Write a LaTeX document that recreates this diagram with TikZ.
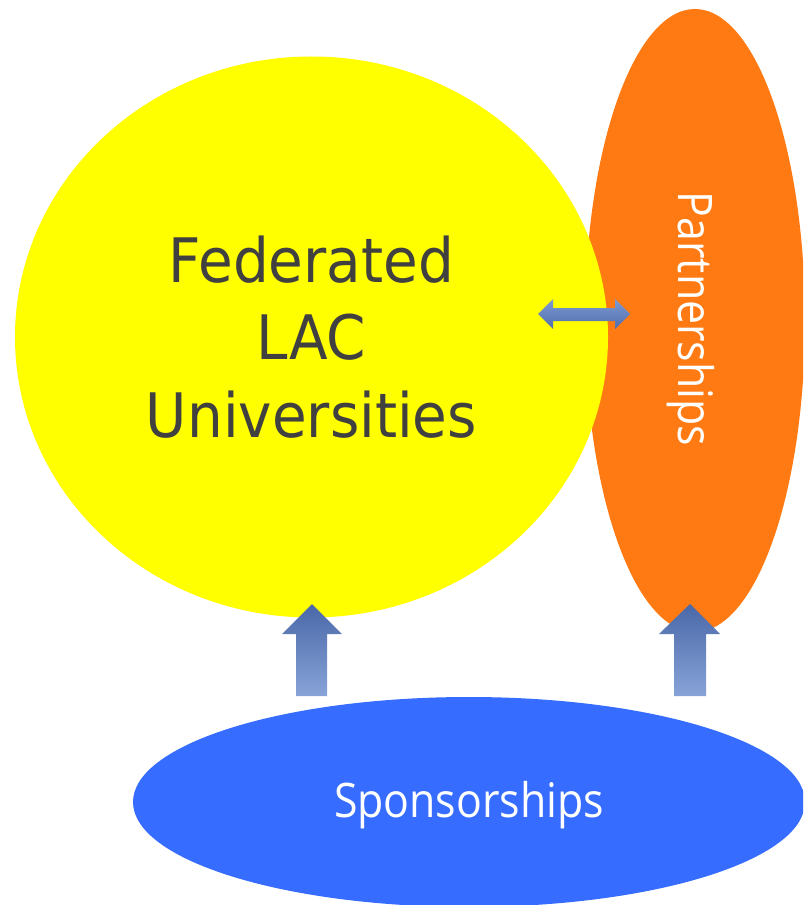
\documentclass[tikz,border=0pt]{standalone}
\usepackage{fontspec}
\newfontfamily\fedfont[FakeStretch=0.92]{DejaVu Sans}
\newfontfamily\labfont[FakeStretch=0.9]{Open Sans}
\usetikzlibrary{shapes.geometric}
\definecolor{fedyellow}{HTML}{FFFF00}
\definecolor{partorange}{HTML}{FF7A12}
\definecolor{sponblue}{HTML}{366CFF}
\definecolor{fedgray}{HTML}{404040}
\definecolor{arrowdark}{HTML}{4A68A8}
\definecolor{arrowlight}{HTML}{87A3D8}
\definecolor{dblight}{HTML}{7E9AD4}
\definecolor{dbdark}{HTML}{506EAC}
\begin{document}
\begin{tikzpicture}[x=0.75pt,y=-0.75pt,
  blob/.style={ellipse, draw=none, inner sep=0pt, outer sep=0pt},
  lab/.style={text=white, font=\labfont\fontsize{35.7}{40}\selectfont, inner sep=0pt},
  uparrow/.style={top color=arrowdark, bottom color=arrowlight, draw=none},
  dblarrow/.style={top color=dblight, bottom color=dbdark, draw=none}]
\useasboundingbox (0,0) rectangle (803,905);
\clip (0,0) rectangle (803,905);
% Partnerships ellipse (behind the circle)
\node[blob, fill=partorange, minimum width=165pt, minimum height=467.25pt] (part) at (695,320.5) {};
% Federated circle
\node[blob, fill=fedyellow, minimum width=444.75pt, minimum height=420.75pt,
      text=fedgray, font=\fedfont\fontsize{46}{58.1}\selectfont, align=center]
      (fed) at (311.5,337) {Federated\\LAC\\Universities};
% Sponsorships ellipse
\node[blob, fill=sponblue, minimum width=504pt, minimum height=157.5pt] (spon) at (469,802) {};
\node[lab, anchor=base] (sponlabel) at (469,817) {Sponsorships};
\node[lab, anchor=base, rotate=-90] (partlabel) at (678,319) {Partnerships};
% block arrows
\shade[uparrow] (312,604) -- (342,634) -- (327,634) -- (327,696) -- (296,696) -- (296,634) -- (282,634) -- cycle;
\shade[uparrow] (690,604) -- (720,634) -- (706,634) -- (706,696) -- (674,696) -- (674,634) -- (659,634) -- cycle;
\shade[dblarrow] (538,314) -- (553,299) -- (553,308) -- (615,308) -- (615,299) -- (630,314)
  -- (615,329) -- (615,321) -- (553,321) -- (553,329) -- cycle;
\end{tikzpicture}
\end{document}
